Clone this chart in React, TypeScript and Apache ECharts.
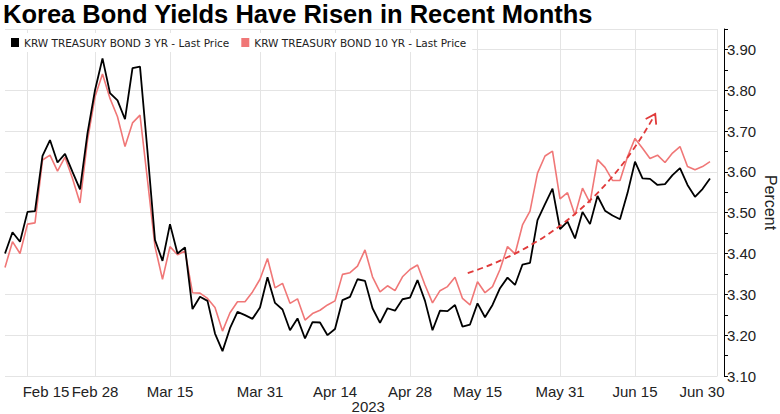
import { useEffect, useRef } from "react";
import * as echarts from "echarts";

const titleText = "Korea Bond Yields Have Risen in Recent Months";
const name3y = "KRW TREASURY BOND 3 YR - Last Price";
const name10y = "KRW TREASURY BOND 10 YR - Last Price";

// Korean trading days (weekends and holidays excluded)
const dates = [
  "2023-02-10", "2023-02-13", "2023-02-14", "2023-02-15", "2023-02-16", "2023-02-17", "2023-02-20",
  "2023-02-21", "2023-02-22", "2023-02-23", "2023-02-24", "2023-02-27", "2023-02-28",
  "2023-03-02", "2023-03-03", "2023-03-06", "2023-03-07", "2023-03-08", "2023-03-09", "2023-03-10",
  "2023-03-13", "2023-03-14", "2023-03-15", "2023-03-16", "2023-03-17", "2023-03-20", "2023-03-21",
  "2023-03-22", "2023-03-23", "2023-03-24", "2023-03-27", "2023-03-28", "2023-03-29", "2023-03-30",
  "2023-03-31",
  "2023-04-03", "2023-04-04", "2023-04-05", "2023-04-06", "2023-04-07", "2023-04-10", "2023-04-11",
  "2023-04-12", "2023-04-13", "2023-04-14", "2023-04-17", "2023-04-18", "2023-04-19", "2023-04-20",
  "2023-04-21", "2023-04-24", "2023-04-25", "2023-04-26", "2023-04-27", "2023-04-28",
  "2023-05-02", "2023-05-03", "2023-05-04", "2023-05-08", "2023-05-09", "2023-05-10", "2023-05-11",
  "2023-05-12", "2023-05-15", "2023-05-16", "2023-05-17", "2023-05-18", "2023-05-19", "2023-05-22",
  "2023-05-23", "2023-05-24", "2023-05-25", "2023-05-26", "2023-05-30", "2023-05-31",
  "2023-06-01", "2023-06-02", "2023-06-05", "2023-06-07", "2023-06-08", "2023-06-09", "2023-06-12",
  "2023-06-13", "2023-06-14", "2023-06-15", "2023-06-16", "2023-06-19", "2023-06-20", "2023-06-21",
  "2023-06-22", "2023-06-23", "2023-06-26", "2023-06-27", "2023-06-28", "2023-06-29", "2023-06-30",
];

const labelDates = [
  "2023-02-15", "2023-02-28", "2023-03-15", "2023-03-31", "2023-04-14",
  "2023-04-28", "2023-05-15", "2023-05-31", "2023-06-15", "2023-06-30",
];

const yield3y = [
  3.40, 3.452, 3.429, 3.502, 3.504, 3.639, 3.678, 3.623, 3.644, 3.60, 3.557, 3.695, 3.80,
  3.878, 3.793, 3.775, 3.729, 3.854, 3.858, 3.65, 3.433, 3.382, 3.472, 3.40, 3.415, 3.264,
  3.294, 3.284, 3.204, 3.161, 3.217, 3.257, 3.249, 3.24, 3.268,
  3.342, 3.279, 3.263, 3.212, 3.241, 3.192, 3.232, 3.231, 3.20, 3.215, 3.286, 3.294, 3.337,
  3.333, 3.266, 3.23, 3.266, 3.26, 3.288, 3.292,
  3.335, 3.284, 3.212, 3.26, 3.259, 3.274, 3.221, 3.226, 3.278, 3.244, 3.274, 3.315, 3.341,
  3.323, 3.373, 3.377, 3.482, 3.521, 3.559, 3.46,
  3.478, 3.437, 3.502, 3.472, 3.541, 3.505, 3.493, 3.484, 3.548, 3.625, 3.584, 3.583, 3.568,
  3.57, 3.592, 3.609, 3.568, 3.539, 3.558, 3.584,
];

const yield10y = [
  3.366, 3.429, 3.40, 3.472, 3.475, 3.629, 3.641, 3.602, 3.636, 3.584, 3.524, 3.678, 3.784,
  3.84, 3.78, 3.735, 3.662, 3.72, 3.739, 3.58, 3.417, 3.337, 3.417, 3.397, 3.406, 3.304,
  3.303, 3.29, 3.268, 3.21, 3.255, 3.282, 3.282, 3.306, 3.337,
  3.388, 3.316, 3.327, 3.278, 3.289, 3.237, 3.253, 3.261, 3.274, 3.284, 3.349, 3.353, 3.369,
  3.409, 3.343, 3.306, 3.321, 3.309, 3.343, 3.361,
  3.372, 3.323, 3.279, 3.309, 3.319, 3.342, 3.29, 3.274, 3.331, 3.304, 3.319, 3.361, 3.417,
  3.399, 3.47, 3.504, 3.597, 3.639, 3.651, 3.534,
  3.549, 3.494, 3.56, 3.524, 3.63, 3.611, 3.579, 3.579, 3.637, 3.682, 3.658, 3.633, 3.641,
  3.623, 3.646, 3.662, 3.613, 3.605, 3.613, 3.625,
];

const yMin = 3.1;
const yMax = 3.95;
const yStep = 0.1;

// dashed trend arrow annotation, in (category index, percent)
const arrowFrom = [61.7, 3.352];
const arrowCtrl = [78, 3.45];
const arrowTo = [86.7, 3.742];

const MONTHS = ["Jan", "Feb", "Mar", "Apr", "May", "Jun", "Jul", "Aug", "Sep", "Oct", "Nov", "Dec"];
const fmtDate = (d: string) => `${MONTHS[parseInt(d.slice(5, 7), 10) - 1]} ${parseInt(d.slice(8, 10), 10)}`;

const AXIS_FONT = "'Liberation Sans', Arial, sans-serif";
const AXIS_SIZE = 15;
const BLACK = "#000000";
const PINK = "#f07777";
const ARROW = "#e03a3a";

export default function App() {
  const ref = useRef<HTMLDivElement>(null);
  useEffect(() => {
    if (!ref.current) return;
    const chart = echarts.init(ref.current, undefined, { renderer: "svg" });
    const isLabel = (_i: number, v: string) => labelDates.includes(v);
    chart.setOption({
      animation: false,
      backgroundColor: "#ffffff",
      title: {
        text: titleText,
        left: 3,
        top: 1,
        padding: 0,
        textStyle: { fontSize: 25.5, fontWeight: "bold", fontFamily: "'Liberation Sans', Arial, sans-serif", color: "#000" },
      },
      legend: {
        left: 5,
        top: 33,
        padding: [4, 6],
        itemGap: 12,
        itemWidth: 8,
        itemHeight: 9,
        icon: "rect",
        backgroundColor: "#ffffff",
        data: [name3y, name10y],
        textStyle: { fontSize: 10.5, fontFamily: "'DejaVu Sans', sans-serif", color: "#222" },
      },
      grid: { left: 5, right: 62.5, top: 29, bottom: 38, containLabel: false, outerBoundsMode: "none" },
      xAxis: {
        type: "category",
        data: dates,
        boundaryGap: false,
        axisLine: { show: false },
        axisTick: { show: false },
        axisLabel: {
          interval: isLabel,
          hideOverlap: false,
          margin: 8,
          color: "#222",
          fontSize: AXIS_SIZE,
          fontFamily: AXIS_FONT,
          formatter: (v: string) => {
            const t = fmtDate(v);
            if (v === labelDates[0]) return `{first|${t}}`;
            if (v === labelDates[labelDates.length - 1]) return `{last|${t}}`;
            return t;
          },
          rich: {
            first: { padding: [0, 0, 0, 37], fontSize: AXIS_SIZE, fontFamily: AXIS_FONT, color: "#222" },
            last: { padding: [0, 31, 0, 0], fontSize: AXIS_SIZE, fontFamily: AXIS_FONT, color: "#222" },
          },
        },
        splitLine: { show: true, interval: isLabel, lineStyle: { color: "#e4e4e4", width: 1 } },
        name: "2023",
        nameLocation: "middle",
        nameMoveOverlap: false,
        nameGap: 23,
        nameTextStyle: { fontSize: AXIS_SIZE, fontFamily: AXIS_FONT, color: "#222", padding: [0, 0, 0, 14] },
      },
      yAxis: {
        type: "value",
        position: "right",
        offset: 6.5,
        min: yMin,
        max: yMax,
        interval: yStep,
        axisLine: { show: true, lineStyle: { color: "#000", width: 1 } },
        axisTick: { show: true, length: 4, lineStyle: { color: "#000" } },
        minorTick: { show: true, splitNumber: 2, length: 4, lineStyle: { color: "#000" } },
        splitLine: { show: true, lineStyle: { color: "#e4e4e4", width: 1 } },
        axisLabel: {
          margin: 3,
          color: "#222",
          fontSize: AXIS_SIZE,
          fontFamily: AXIS_FONT,
          showMaxLabel: false,
          formatter: (v: number) => {
            const k = Math.round(v * 100);
            return k % 10 === 0 ? v.toFixed(2) : "";
          },
        },
        name: "Percent",
        nameLocation: "middle",
        nameMoveOverlap: false,
        nameRotate: -90,
        nameGap: 38,
        nameTextStyle: { fontSize: 16, fontFamily: "'Liberation Sans', Arial, sans-serif", color: "#222" },
      },
      series: [
        {
          name: name10y,
          type: "line",
          data: yield10y,
          symbol: "none",
          color: PINK,
          lineStyle: { color: PINK, width: 1.6 },
        },
        {
          name: name3y,
          type: "line",
          data: yield3y,
          symbol: "none",
          color: BLACK,
          lineStyle: { color: BLACK, width: 1.8 },
        },
      ],
    });

    // annotation arrow, positioned through the axes
    const xa = chart.convertToPixel({ xAxisIndex: 0 }, dates[0]) as number;
    const xb = chart.convertToPixel({ xAxisIndex: 0 }, dates[dates.length - 1]) as number;
    const ya = chart.convertToPixel({ yAxisIndex: 0 }, yMin) as number;
    const yb = chart.convertToPixel({ yAxisIndex: 0 }, 3.9) as number;
    const px = (p: number[]) => [
      xa + ((xb - xa) * p[0]) / (dates.length - 1),
      ya + ((yb - ya) * (p[1] - yMin)) / (3.9 - yMin),
    ];
    const P0 = px(arrowFrom);
    const C = px(arrowCtrl);
    const P2 = px(arrowTo);
    let dx = P2[0] - C[0];
    let dy = P2[1] - C[1];
    const len = Math.hypot(dx, dy);
    dx /= len;
    dy /= len;
    const back = 9;
    const side = 6;
    const left = [P2[0] - back * dx - side * dy, P2[1] - back * dy + side * dx];
    const right = [P2[0] - back * dx + side * dy, P2[1] - back * dy - side * dx];
    chart.setOption({
      graphic: [
        {
          type: "bezierCurve",
          shape: { x1: P0[0], y1: P0[1], cpx1: C[0], cpy1: C[1], x2: P2[0], y2: P2[1] },
          style: { stroke: ARROW, lineWidth: 1.8, lineDash: [6, 4], fill: null },
          z: 10,
        },
        {
          type: "polyline",
          shape: { points: [left, P2, right] },
          style: { stroke: ARROW, lineWidth: 1.8, fill: null },
          z: 10,
        },
      ],
    });
    return () => chart.dispose();
  }, []);
  return <div ref={ref} style={{ position: "fixed", left: 0, top: 0, width: 780, height: 414 }} />;
}
